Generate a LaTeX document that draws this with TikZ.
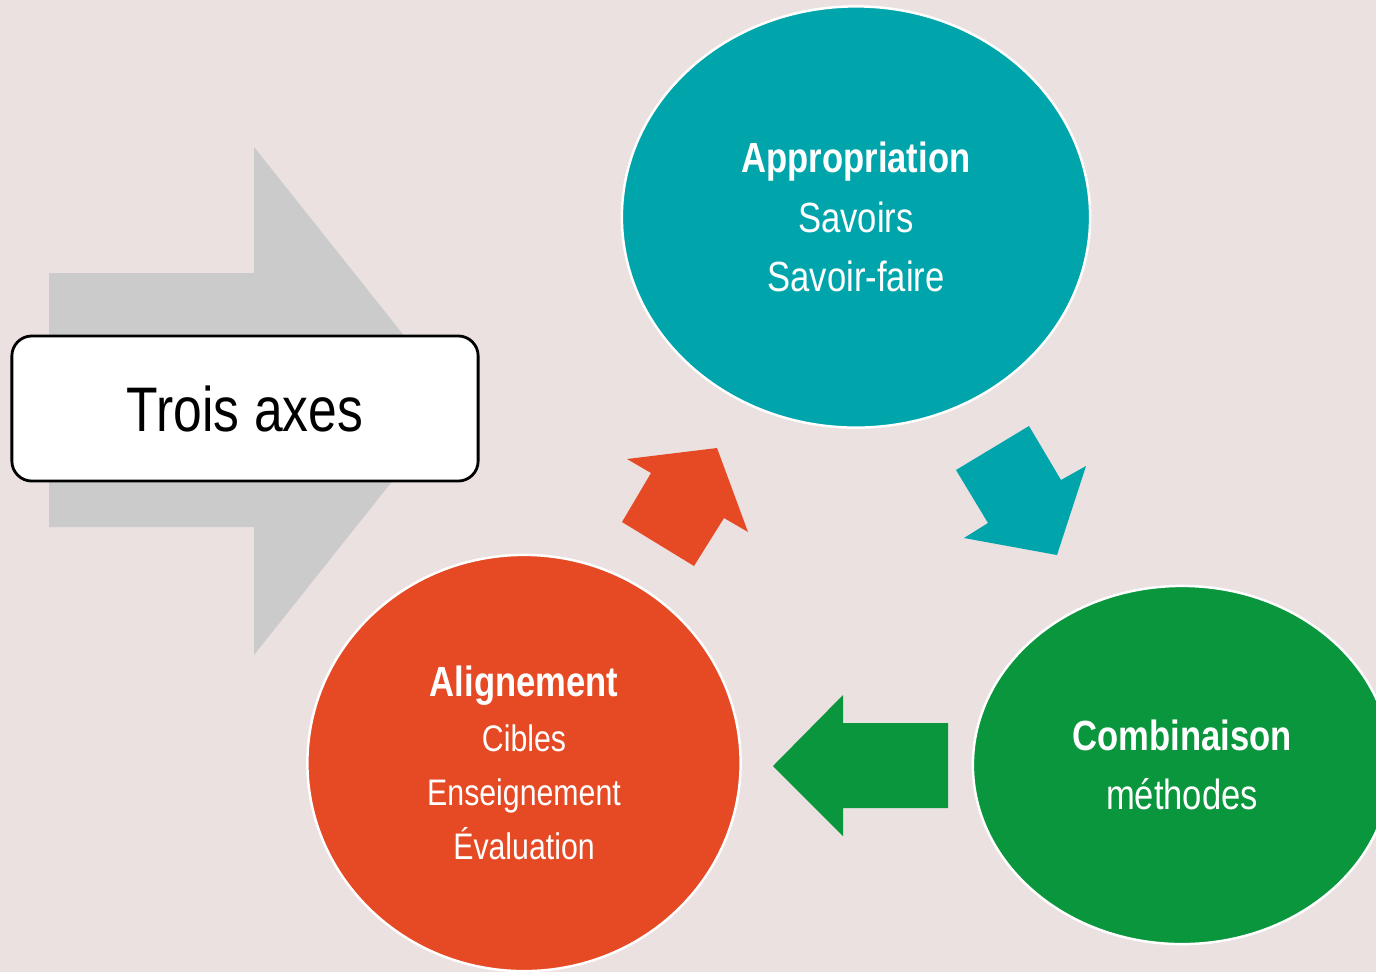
\documentclass[tikz,border=0pt]{standalone}
\usepackage{fontspec}
\setmainfont{Liberation Sans}
\newfontfamily\narrowfont[FakeStretch=0.82]{Liberation Sans}
\usetikzlibrary{shapes.geometric}
\definecolor{bgc}{RGB}{234,225,224}
\definecolor{tealc}{RGB}{0,165,172}
\definecolor{redc}{RGB}{230,74,36}
\definecolor{greenc}{RGB}{10,150,60}
\definecolor{greyc}{RGB}{203,203,203}
\newcommand{\smr}{\fontsize{10.5pt}{15.4pt}\selectfont}
\tikzset{
  blob/.style={ellipse, draw=white, line width=0.7pt, inner sep=0pt, text=white, align=center},
  lbl/.style={font=\narrowfont\fontsize{12pt}{17pt}\selectfont},
  lblr/.style={font=\narrowfont\fontsize{12pt}{15.4pt}\selectfont},
  titlebox/.style={rectangle, rounded corners=0.2cm, draw=black, line width=0.8pt, fill=white,
    minimum width=4.66cm, minimum height=1.45cm, font=\narrowfont\fontsize{17.9pt}{20pt}\selectfont}
}
\begin{document}
\begin{tikzpicture}[x=0.01cm,y=-0.01cm]
\useasboundingbox (0,0) rectangle (1376,972);
\fill[bgc] (0,0) rectangle (1376,972);
\clip (0,0) rectangle (1376,972);
% grey big arrow
\fill[greyc] (49,273) -- (254,273) -- (254,147) -- (456,401) -- (254,655) -- (254,527) -- (49,527) -- cycle;
\node[titlebox] (axes) at (245,408.5) {Trois axes};
% ellipses
\node[blob, fill=tealc, minimum width=4.68cm, minimum height=4.21cm, lbl] (appro) at (856,217)
  {\textbf{Appropriation}\\Savoirs\\Savoir-faire};
\node[blob, fill=redc, minimum width=4.33cm, minimum height=4.16cm, lblr] (align) at (524,763)
  {\textbf{Alignement}\\\smr Cibles\\\smr Enseignement\\\smr Évaluation};
\node[blob, fill=greenc, minimum width=4.18cm, minimum height=3.58cm, lbl] (combi) at (1182,765)
  {\textbf{Combinaison}\\méthodes};
% block arrows
\fill[redc] (717,448) -- (748,532) -- (724,518) -- (694,566) -- (622,522) -- (651,473) -- (627,459) -- cycle;
\fill[tealc] (1029,426) -- (1061,480) -- (1086,466) -- (1057,555) -- (964,538) -- (988,523) -- (956,470) -- cycle;
\fill[greenc] (773,766) -- (843,695) -- (843,723) -- (948,723) -- (948,808) -- (843,808) -- (843,836) -- cycle;
\end{tikzpicture}
\end{document}
